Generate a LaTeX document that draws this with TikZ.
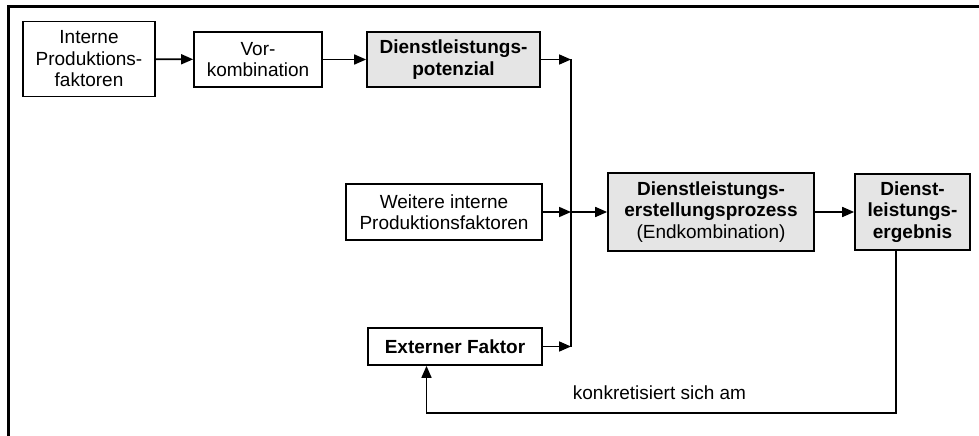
\documentclass[tikz,border=0pt]{standalone}
\usepackage{fontspec}
\setmainfont{Liberation Sans}
\usepackage{tikz}
\usetikzlibrary{arrows.meta, backgrounds}

\begin{document}
\begin{tikzpicture}[x=1pt, y=-1pt, background rectangle/.style={fill=white}, show background rectangle, inner frame sep=0pt]
            \useasboundingbox (0,0) rectangle (979,436);
            \draw[line width=3pt] (979,7) -| (8,436);

            \begin{scope}[every node/.style={rectangle, draw=black, line width=1.7pt, align=center, inner sep=0pt,
                                             font=\fontsize{19}{21.5}\selectfont}]
                \node[minimum width=132pt, minimum height=75pt] (intern) at (89,59) {Interne\\Produktions-\\faktoren};
                \node[minimum width=128pt, minimum height=55pt] (vorkomb) at (258,59.5) {Vor-\\kombination};
                \node[fill=black!10, minimum width=173pt, minimum height=55pt] (potenzial) at (453.5,59.5) {\bfseries Dienstleistungs-\\\bfseries potenzial};
                \node[minimum width=196pt, minimum height=56pt] (weitere) at (444,212) {Weitere interne\\Produktionsfaktoren};
                \node[fill=black!10, minimum width=206pt, minimum height=78pt] (prozess) at (711,212) {\bfseries Dienstleistungs-\\\bfseries erstellungsprozess\\(Endkombination)};
                \node[fill=black!10, minimum width=115pt, minimum height=76pt] (ergebnis) at (912.5,212) {\bfseries Dienst-\\\bfseries leistungs-\\\bfseries ergebnis};
                \node[minimum width=174pt, minimum height=37pt] (extern) at (455,346.5) {\bfseries Externer Faktor};
            \end{scope}

            \coordinate (jtop) at (571,59.5);
            \coordinate (jmid) at (571,212);
            \coordinate (jbot) at (571,346.5);
            \coordinate (fbr) at (896,413);
            \coordinate (fbl) at (426.5,413);
            \node[font=\fontsize{19}{21.5}\selectfont] (konkret) at (659.5,393) {konkretisiert sich am};

            \begin{scope}[>={Triangle[length=12pt, width=10pt]},
                          every edge/.style={draw=black, line width=1.7pt}]
                \path[->] (intern) edge (vorkomb);
                \path[->] (vorkomb) edge (potenzial);
                \path[->] (potenzial) edge (jtop);
                \path[->] (weitere) edge (jmid);
                \path[->] (jmid) edge (prozess);
                \path[->] (extern) edge (jbot);
                \path[->] (prozess) edge (ergebnis);
                \draw[line width=1.7pt] (jtop) -- (jbot);
                \draw[->, line width=1.7pt] (fbr |- ergebnis.south) -- (fbr) -- (fbl) -- (fbl |- extern.south);
            \end{scope}

            \end{tikzpicture}
\end{document}
